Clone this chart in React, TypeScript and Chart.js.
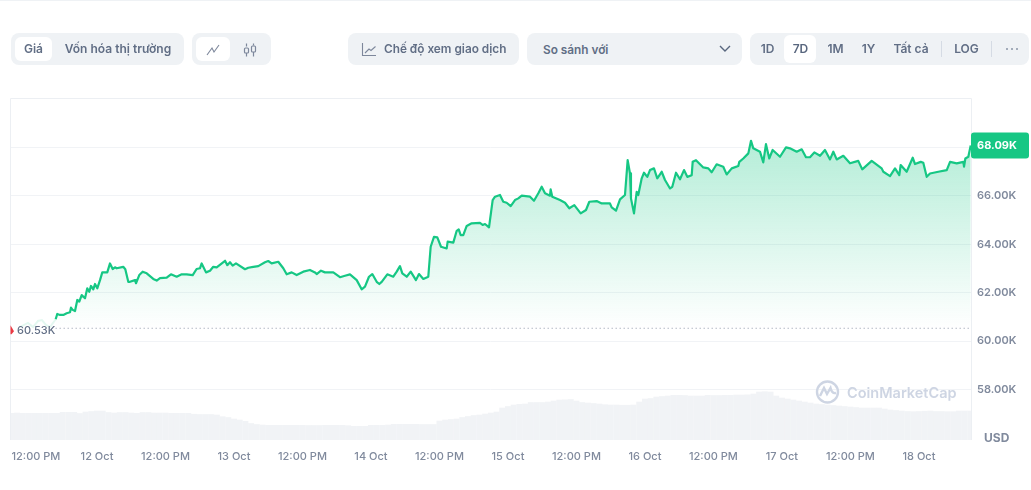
import React, { useEffect, useRef } from "react";
import { Chart, registerables } from "chart.js";

Chart.register(...registerables);

const FONT = "Inter, 'Noto Sans', sans-serif";

// hours since 11 Oct 00:00
const priceHours = [
  16.76, 17.04, 17.52, 18.1, 18.69, 19.27, 19.44, 19.74, 20.15, 20.55, 20.9, 21.32, 21.9, 22.3, 22.65, 22.95, 23.35, 23.65, 24.05, 24.53,
  24.93, 25.8, 26.28, 26.75, 27.15, 27.45, 28.6, 28.96, 29.48, 29.78, 30.66, 30.83, 31.41, 32.0, 32.71, 33.86, 34.46, 35.04, 36.21, 36.96,
  37.96, 38.84, 39.71, 40.77, 41.45, 42.04, 42.34, 43.1, 43.8, 44.37, 44.97, 46.43, 46.83, 47.3, 47.77, 48.35, 49.93, 50.5, 51.38, 52.26,
  53.43, 54.0, 54.6, 55.76, 56.64, 57.23, 58.11, 58.98, 60.14, 61.31, 62.19, 62.49, 63.24, 63.94, 65.4, 66.57,
  67.45, 68.32, 69.5, 70.37, 70.95, 71.65, 72.23, 73.0, 73.46, 73.88, 74.86, 75.91, 76.51, 77.08, 77.49, 78.26, 78.96, 79.88, 80.41, 81.17,
  82.04, 82.46, 83.04, 83.62, 84.27, 85.26, 85.44, 86.42, 87.02, 87.37, 87.72, 88.17, 88.77, 89.64, 91.1, 91.57, 91.98, 92.68, 93.32, 93.73,
  94.6, 95.18, 95.77, 96.48, 97.23, 97.81, 98.41, 99.86, 100.56, 101.32, 101.91, 102.49, 103.36, 103.48, 103.76, 105.11, 105.99, 106.74, 107.62, 108.74,
  109.67, 110.25, 111.54, 112.42, 113.87, 114.17, 114.93, 115.63, 116.5, 116.97, 117.38, 117.55, 118.08, 118.55, 118.83, 119.43, 119.83, 120.41, 120.88, 121.58,
  122.16, 122.93, 123.51, 124.39, 124.79, 125.44,
  126.14, 126.84, 127.42, 128.19, 128.36, 128.94, 130.22, 131.1, 131.69, 132.56, 133.72, 134.31, 135.2, 136.35, 136.53, 137.23, 138.11, 138.58, 138.98, 140.15,
  140.73, 141.2, 141.78, 142.37, 143.66, 144.71, 145.41, 146.58, 147.46, 148.21, 148.91, 149.67, 150.67, 151.54, 152.42, 153.0, 153.59, 154.75, 155.92, 157.37,
  158.07, 159.72, 161.47, 161.76, 162.93, 163.81, 164.56, 164.8, 165.85, 166.91, 167.31, 168.31, 168.76, 169.36, 169.94, 171.39, 172.87, 173.45, 174.62, 175.78,
  175.9, 176.13, 176.65, 177.07,
];

// thousands of USD
const priceValues = [
  60.9, 61.12, 61.08, 61.08, 61.15, 61.19, 61.38, 61.29, 61.24, 61.7, 61.63, 61.9, 61.77, 62.18, 62.04, 62.28, 62.14, 62.36, 62.18, 62.52,
  62.84, 62.84, 63.21, 62.98, 63.05, 63.01, 63.07, 62.97, 62.45, 62.45, 62.52, 62.39, 62.73, 62.87, 62.8, 62.57, 62.5, 62.6, 62.62, 62.76,
  62.66, 62.76, 62.76, 62.73, 62.98, 63.01, 63.21, 62.84, 62.91, 63.07, 63.05, 63.32, 63.14, 63.26, 63.12, 63.21, 62.97, 63.03, 63.07, 63.1,
  63.26, 63.31, 63.21, 63.28, 63.01, 62.76, 62.84, 62.73, 62.87, 62.94, 62.84, 62.77, 62.91, 62.84, 62.84, 62.64,
  62.7, 62.76, 62.52, 62.14, 62.25, 62.66, 62.77, 62.45, 62.36, 62.45, 62.76, 62.66, 62.87, 63.1, 62.8, 62.66, 62.87, 62.52, 62.77, 62.57,
  62.66, 63.9, 64.31, 64.29, 63.9, 63.83, 64.11, 64.07, 64.56, 64.62, 64.38, 64.38, 64.76, 64.87, 64.89, 64.8, 64.84, 64.7, 65.83, 65.97,
  66.04, 65.76, 65.72, 65.58, 65.83, 65.9, 66.01, 65.97, 65.8, 66.11, 66.38, 66.11, 66.01, 66.27, 65.97, 65.83, 65.72, 65.49, 65.62, 65.28,
  65.42, 65.76, 65.79, 65.69, 65.69, 65.53, 65.39, 65.86, 66.04, 67.48, 66.93, 65.9, 65.28, 66.17, 66.04, 66.73, 66.96, 66.79, 67.07, 67.14,
  66.73, 67.0, 66.66, 66.31, 66.38, 66.96,
  66.69, 67.07, 66.79, 66.86, 67.41, 67.48, 67.18, 67.14, 66.98, 67.31, 67.21, 66.89, 67.14, 67.24, 67.41, 67.55, 67.76, 68.28, 67.97, 67.83,
  67.39, 68.14, 67.55, 67.9, 67.62, 68.01, 67.97, 67.83, 67.93, 67.6, 67.6, 67.8, 67.66, 67.9, 67.51, 67.83, 67.51, 67.66, 67.35, 67.45,
  67.1, 67.45, 67.14, 67.0, 66.82, 67.14, 66.86, 67.28, 67.0, 67.58, 67.32, 67.41, 67.37, 66.79, 66.93, 67.0, 67.07, 67.41, 67.35, 67.41,
  67.21, 67.55, 67.62, 68.09,
];

// the faded stretch of line just before the visible one starts
const fadedHours = [10.5, 11.9, 12.8, 13.66, 14.36, 15.06, 15.77, 16.76];
const fadedValues = [60.58, 60.75, 60.58, 60.83, 60.87, 60.67, 60.58, 60.9];

const volumeStartHour = 9;
const volumeValues = [
  26.7, 27, 26.7, 26.7, 26.7, 26.7, 26.7, 26.7, 26.7, 27.7, 27.7, 27.7, 26.5, 28, 28.5, 29, 29, 27.5, 27, 27.5,
  27.5, 27, 26.7, 27.5, 27.5, 27, 27, 27, 26.7, 26.7, 26.7, 26.7, 25.8, 25.5, 25.5, 25.5, 25, 23.3, 22.5, 21,
  20, 18.7, 16.5, 15.5, 15, 14.7, 14.7, 14.7, 14.7, 14.7, 14.7, 14.7, 14.5, 14.5, 14.5, 14.7, 14.7, 14.7, 14.7, 14.3,
  13.7, 13.7, 13.7, 14.7, 14.7, 14.7, 15, 15.7, 15.7, 15.7, 15.7, 15.7, 15.5, 15.5, 15.5, 19, 20, 20.5, 21, 22.5,
  23.5, 24.5, 25, 26, 27, 28, 32, 33.5, 35, 35.7, 36, 37.5, 37.5, 37.5, 38, 39, 40, 40.2, 40.5, 39,
  37.5, 37, 36.5, 36, 35.3, 35, 35, 34.8, 34.8, 35, 38, 41, 41.5, 43, 43.5, 44, 44.7, 44.7, 44.5, 44,
  44, 44, 44.7, 44.5, 44.5, 44.7, 44.7, 45, 45, 45.2, 46, 48, 48.3, 48, 44, 42, 41, 40, 39, 38,
  37, 36, 35.5, 35, 34.5, 34, 33.5, 33, 32.5, 32, 32, 32, 32, 31, 30, 29.5, 29, 28.5, 28.3, 28.5,
  28.8, 29, 28.5, 28.5, 28.3, 28.3, 29, 29, 29, 29,
];

const yTicks = [58, 60, 62, 64, 66, 68];
const xTickHours = [13.3, 24, 36, 48, 60, 72, 84, 96, 108, 120, 132, 144, 156, 168];
const xTickLabels = [
  "12:00 PM", "12 Oct", "12:00 PM", "13 Oct", "12:00 PM", "14 Oct", "12:00 PM",
  "15 Oct", "12:00 PM", "16 Oct", "12:00 PM", "17 Oct", "12:00 PM", "18 Oct",
];
const referencePrice = 60.53;
const lastPrice = 68.09;

const GREEN = "#16c784";
const GRID = "#f1f3f6";
const AXIS_TEXT = "#808a9d";
const BTN_TEXT = "#616e85";
const BTN_BG = "#eff2f5";

const overlayPlugin = {
  id: "overlay",
  afterDraw(chart: any) {
    const { ctx, chartArea: a, scales } = chart;
    ctx.save();
    ctx.strokeStyle = "#eceff3";
    ctx.lineWidth = 1;
    ctx.beginPath();
    ctx.moveTo(a.left + 0.5, a.bottom);
    ctx.lineTo(a.left + 0.5, a.top + 0.5);
    ctx.lineTo(a.right + 0.5, a.top + 0.5);
    ctx.lineTo(a.right + 0.5, a.bottom);
    ctx.stroke();

    const ry = scales.y.getPixelForValue(referencePrice);
    ctx.fillStyle = "#ea3943";
    ctx.beginPath();
    ctx.moveTo(a.left + 0.5, ry - 3);
    ctx.lineTo(a.left + 4, ry + 3);
    ctx.lineTo(a.left + 1.5, ry + 6);
    ctx.lineTo(a.left + 0.5, ry + 6);
    ctx.closePath();
    ctx.fill();

    ctx.font = `500 11px ${FONT}`;
    ctx.fillStyle = "#616e85";
    ctx.textAlign = "left";
    ctx.textBaseline = "middle";
    ctx.fillText(`${referencePrice.toFixed(2)}K`, a.left + 7, ry + 2);

    const ly = scales.y.getPixelForValue(lastPrice);
    ctx.fillStyle = GREEN;
    ctx.beginPath();
    ctx.roundRect(a.right, ly - 13, 58, 26, 3);
    ctx.fill();
    ctx.fillStyle = "#ffffff";
    ctx.font = `700 11px ${FONT}`;
    ctx.fillText(`${lastPrice.toFixed(2)}K`, a.right + 6, ly + 0.5);

    ctx.fillStyle = AXIS_TEXT;
    ctx.font = `700 12px ${FONT}`;
    ctx.fillText("USD", a.right + 13, a.bottom - 2);
    ctx.restore();
  },
};

function Label(props: { x: number; w?: number; y?: number; h?: number; text: string; left?: boolean; color?: string; size?: number; spacing?: number }) {
  const { x, w = 0, y = 33, h = 32, text, left, color, size = 12, spacing = 0 } = props;
  return (
    <div
      style={{
        position: "absolute",
        left: x,
        top: y,
        width: w,
        height: h,
        textAlign: left ? "left" : "center",
        font: `600 ${size}px/${h}px ${FONT}`,
        letterSpacing: spacing,
        color: color || BTN_TEXT,
        whiteSpace: "nowrap",
      }}
    >
      {text}
    </div>
  );
}

function Box(props: { x: number; w: number; y?: number; h?: number; bg?: string; r?: number }) {
  const { x, w, y = 33, h = 32, bg = BTN_BG, r = 8 } = props;
  return <div style={{ position: "absolute", left: x, top: y, width: w, height: h, background: bg, borderRadius: r }} />;
}

export default function App() {
  const ref = useRef<HTMLCanvasElement>(null);

  useEffect(() => {
    const lastHour = 177.12;
    const chart = new Chart(ref.current as HTMLCanvasElement, {
      type: "line",
      data: {
        datasets: [
          {
            type: "line",
            data: [
              { x: priceHours[0], y: referencePrice },
              { x: lastHour, y: referencePrice },
            ],
            borderColor: "#8d96a8",
            borderWidth: 1,
            borderDash: [1, 3],
            pointRadius: 0,
            fill: false,
            order: 3,
          },
          {
            type: "line",
            data: fadedHours.map((x, i) => ({ x, y: fadedValues[i] })),
            borderColor: "rgba(22,199,132,0.12)",
            borderWidth: 2,
            pointRadius: 0,
            fill: false,
            order: 2,
          },
          {
            type: "line",
            data: priceHours.map((x, i) => ({ x, y: priceValues[i] })),
            borderColor: GREEN,
            borderWidth: 2.2,
            borderJoinStyle: "round",
            pointRadius: 0,
            tension: 0,
            fill: "start",
            backgroundColor: (c: any) => {
              const { chart: ch } = c;
              if (!ch.chartArea) return "rgba(22,199,132,0.2)";
              const s = ch.scales.y;
              const g = ch.ctx.createLinearGradient(0, s.getPixelForValue(68.3), 0, s.getPixelForValue(referencePrice));
              g.addColorStop(0, "rgba(22,199,132,0.32)");
              g.addColorStop(1, "rgba(22,199,132,0)");
              return g;
            },
            order: 1,
          },
          {
            type: "bar",
            data: volumeValues.map((y, i) => ({ x: volumeStartHour + i, y })),
            yAxisID: "yVolume",
            backgroundColor: "#f1f3f6",
            barThickness: 5.3,
            grouped: false,
            order: 4,
          },
        ],
      } as any,
      options: {
        animation: false,
        responsive: false,
        parsing: false as any,
        normalized: true,
        layout: { padding: { left: 10, top: 98, right: 0, bottom: 0 } },
        plugins: { legend: { display: false }, tooltip: { enabled: false } },
        events: [],
        scales: {
          x: {
            type: "linear",
            min: 8.76,
            max: lastHour,
            offset: false,
            grid: { display: false, offset: false },
            border: { display: false },
            afterBuildTicks: (s: any) => {
              s.ticks = xTickHours.map((value) => ({ value }));
            },
            afterFit: (s: any) => {
              s.height = 50;
            },
            ticks: {
              autoSkip: false,
              maxRotation: 0,
              minRotation: 0,
              padding: 2,
              color: AXIS_TEXT,
              font: { family: FONT, size: 11, weight: 500 },
              callback: (_v: any, i: number) => xTickLabels[i],
            },
          },
          y: {
            position: "right",
            min: 55.91,
            max: 70.05,
            grid: { color: GRID, lineWidth: 1, drawTicks: false },
            border: { display: false },
            afterBuildTicks: (s: any) => {
              s.ticks = yTicks.map((value) => ({ value }));
            },
            afterFit: (s: any) => {
              s.width = 60;
            },
            ticks: {
              padding: 6,
              color: AXIS_TEXT,
              font: { family: FONT, size: 11, weight: 600 },
              callback: (v: any) => `${Number(v).toFixed(2)}K`,
            },
          },
          yVolume: { display: false, position: "left", min: 0, max: 342 },
        },
      } as any,
      plugins: [overlayPlugin],
    });
    return () => chart.destroy();
  }, []);

  return (
    <div style={{ position: "absolute", left: 0, top: 0, width: 1031, height: 490, overflow: "hidden", background: "#fff", fontFamily: FONT }}>
      <div style={{ position: "absolute", left: 0, top: 0, width: 1031, height: 1, background: "#eff2f5" }} />
      <canvas ref={ref} width={1031} height={490} style={{ position: "absolute", left: 0, top: 0, width: 1031, height: 490 }} />

      <Box x={11} w={173} />
      <Box x={15} w={37} y={37} h={24} bg="#fff" r={6} />
      <Label x={15} w={37} text="Giá" />
      <Label x={64} w={108} text="Vốn hóa thị trường" />

      <Box x={192} w={79} />
      <Box x={196} w={34} y={37} h={24} bg="#fff" r={6} />
      <svg style={{ position: "absolute", left: 205, top: 42 }} width="16" height="16" viewBox="0 0 16 16" fill="none" stroke="#7d879b" strokeWidth="1.1">
        <path d="M2 13 L7 6 L9 10 L14 3" />
      </svg>
      <svg style={{ position: "absolute", left: 242, top: 42 }} width="16" height="16" viewBox="0 0 16 16" fill="none" stroke="#7d879b" strokeWidth="1.2">
        <path d="M4.5 1.5 V4.5 M4.5 11 V14.5 M11.5 1.5 V3.5 M11.5 10 V14.5" />
        <rect x="2.5" y="6" width="4" height="5" rx="1" />
        <rect x="9.5" y="4" width="4" height="6" rx="1" />
      </svg>

      <Box x={348} w={171} />
      <svg style={{ position: "absolute", left: 361, top: 41 }} width="16" height="16" viewBox="0 0 16 16" fill="none" stroke="#7d879b" strokeWidth="1.1">
        <path d="M1.5 2 V14.5 H15 M4 12 L8 8 L10 9.5 L14.5 5.5" />
      </svg>
      <Label x={384} w={122} size={11.8} text="Chế độ xem giao dịch" left />

      <Box x={527} w={215} />
      <Label x={543} w={80} y={34} size={11.8} text="So sánh với" left />
      <svg style={{ position: "absolute", left: 718, top: 44 }} width="14" height="10" viewBox="0 0 14 10" fill="none" stroke="#58667e" strokeWidth="1.4">
        <path d="M2 2 L7 7 L12 2" />
      </svg>

      <Box x={750} w={279} />
      <Box x={784} w={32} y={35} h={28} bg="#fff" r={6} />
      <Label x={752} w={31} text="1D" />
      <Label x={785} w={31} text="7D" color="#58667e" />
      <Label x={820} w={31} text="1M" />
      <Label x={853} w={31} text="1Y" />
      <Label x={891} w={40} text="Tất cả" />
      <div style={{ position: "absolute", left: 941, top: 41, width: 1, height: 16, background: "#d5dbe4" }} />
      <Label x={951} w={31} text="LOG" />
      <div style={{ position: "absolute", left: 991, top: 41, width: 1, height: 16, background: "#d5dbe4" }} />
      <svg style={{ position: "absolute", left: 1005, top: 47 }} width="14" height="4" viewBox="0 0 14 4" fill="#8a94a6">
        <circle cx="2" cy="2" r="1" />
        <circle cx="7" cy="2" r="1" />
        <circle cx="12" cy="2" r="1" />
      </svg>

      <svg style={{ position: "absolute", left: 815, top: 379 }} width="25" height="26" viewBox="0 0 25 26" fill="none" stroke="#ced5e3" strokeWidth="2.4">
        <circle cx="12.5" cy="13" r="10.5" />
        <path d="M5 17 L9 9 L12 15 L15.5 9 Q17 15 21 14" />
      </svg>
      <div style={{ position: "absolute", left: 847, top: 383, font: `600 14.5px/20px ${FONT}`, color: "#ced5e3", whiteSpace: "nowrap" }}>CoinMarketCap</div>
    </div>
  );
}
